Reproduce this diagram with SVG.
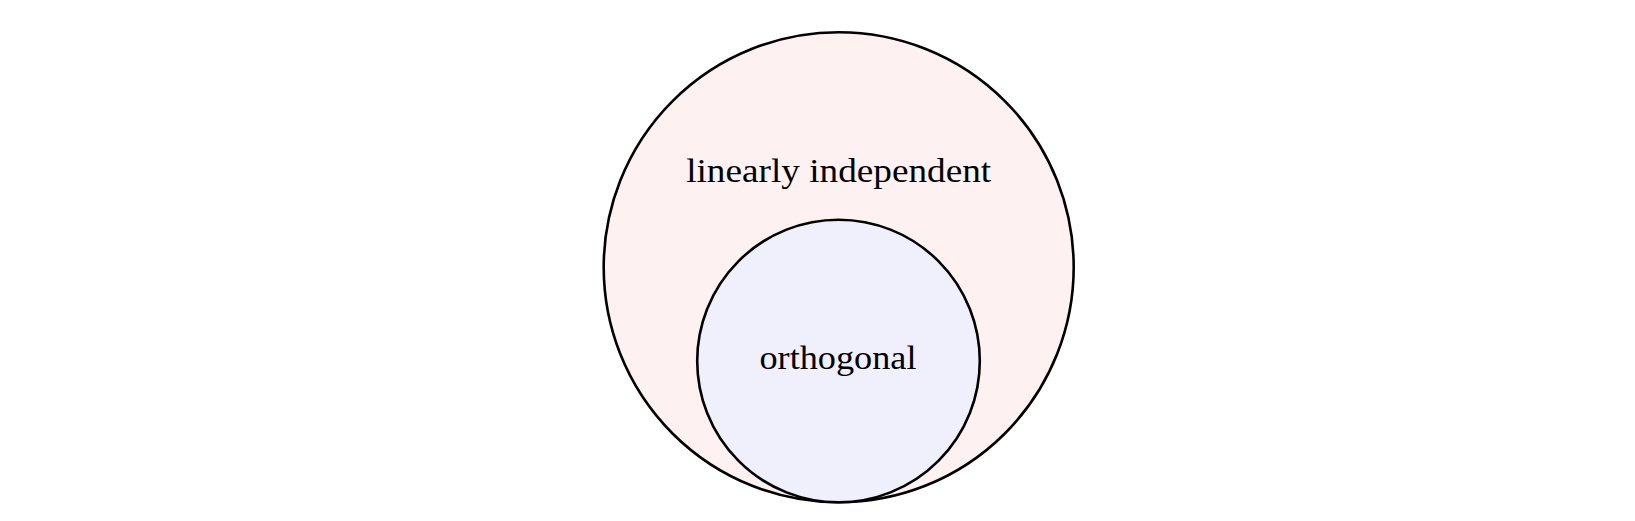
<svg xmlns="http://www.w3.org/2000/svg" width="1635" height="521" viewBox="0 0 1635 521">
<style>
.c{stroke:#000;stroke-width:2.6}
.t{font-family:"Liberation Serif","DejaVu Serif",serif;font-size:33px;fill:#000;text-anchor:middle}
</style>
<rect width="1635" height="521" fill="#fff"/>
<g id="linearly-independent">
<circle class="c" cx="838.7" cy="267.3" r="235" fill="#fdf1f1"/>
<text class="t" x="838.7" y="182" textLength="305" lengthAdjust="spacingAndGlyphs">linearly independent</text>
</g>
<g id="orthogonal">
<circle class="c" cx="838.5" cy="361" r="141.3" fill="#f0f0fc"/>
<text class="t" x="838" y="369" textLength="157" lengthAdjust="spacingAndGlyphs">orthogonal</text>
</g>
<g id="connectors"/>
</svg>
